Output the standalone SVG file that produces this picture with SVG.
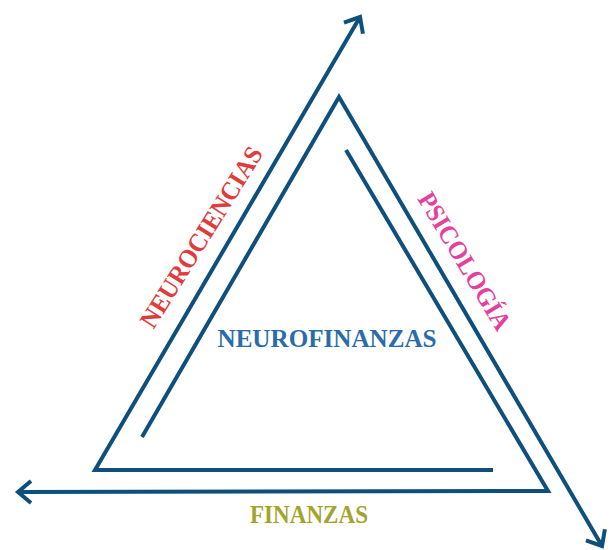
<svg xmlns="http://www.w3.org/2000/svg" width="613" height="550" viewBox="0 0 613 550">
<style>
.ln{fill:none;stroke:#0f4f7d;stroke-width:4;stroke-linejoin:miter}
.lbl{font-family:"Liberation Serif","DejaVu Serif",serif;font-weight:bold;text-anchor:middle}
</style>
<defs>
<marker id="ah" markerUnits="userSpaceOnUse" markerWidth="30" markerHeight="30" viewBox="-20 -15 25 30" refX="0" refY="0" orient="auto" overflow="visible">
<path d="M -13 -11 L 0 0 L -13 11" fill="none" stroke="#0f4f7d" stroke-width="4"/>
</marker>
</defs>
<rect width="613" height="550" fill="#ffffff"/>
<g id="connectors">
<polyline class="ln" points="493,470 95,470 360,17" marker-end="url(#ah)"/>
<polyline class="ln" points="142,437 339,97 602,546" marker-end="url(#ah)"/>
<polyline class="ln" points="346,150 548,491 18,492" marker-end="url(#ah)"/>
</g>
<g id="neurociencias"><text class="lbl" transform="translate(201,237) rotate(-58)" y="9" font-size="26" fill="#e03c3c" textLength="208" lengthAdjust="spacingAndGlyphs">NEUROCIENCIAS</text></g>
<g id="psicologia"><text class="lbl" transform="translate(465,261) rotate(59)" y="9" font-size="26" fill="#e3419d" textLength="156" lengthAdjust="spacingAndGlyphs">PSICOLOGÍA</text></g>
<g id="neurofinanzas"><text class="lbl" x="327" y="347" font-size="26" fill="#2a6cab" textLength="219" lengthAdjust="spacingAndGlyphs">NEUROFINANZAS</text></g>
<g id="finanzas"><text class="lbl" x="309" y="523" font-size="25" fill="#a2a42c" textLength="118" lengthAdjust="spacingAndGlyphs">FINANZAS</text></g>
</svg>
